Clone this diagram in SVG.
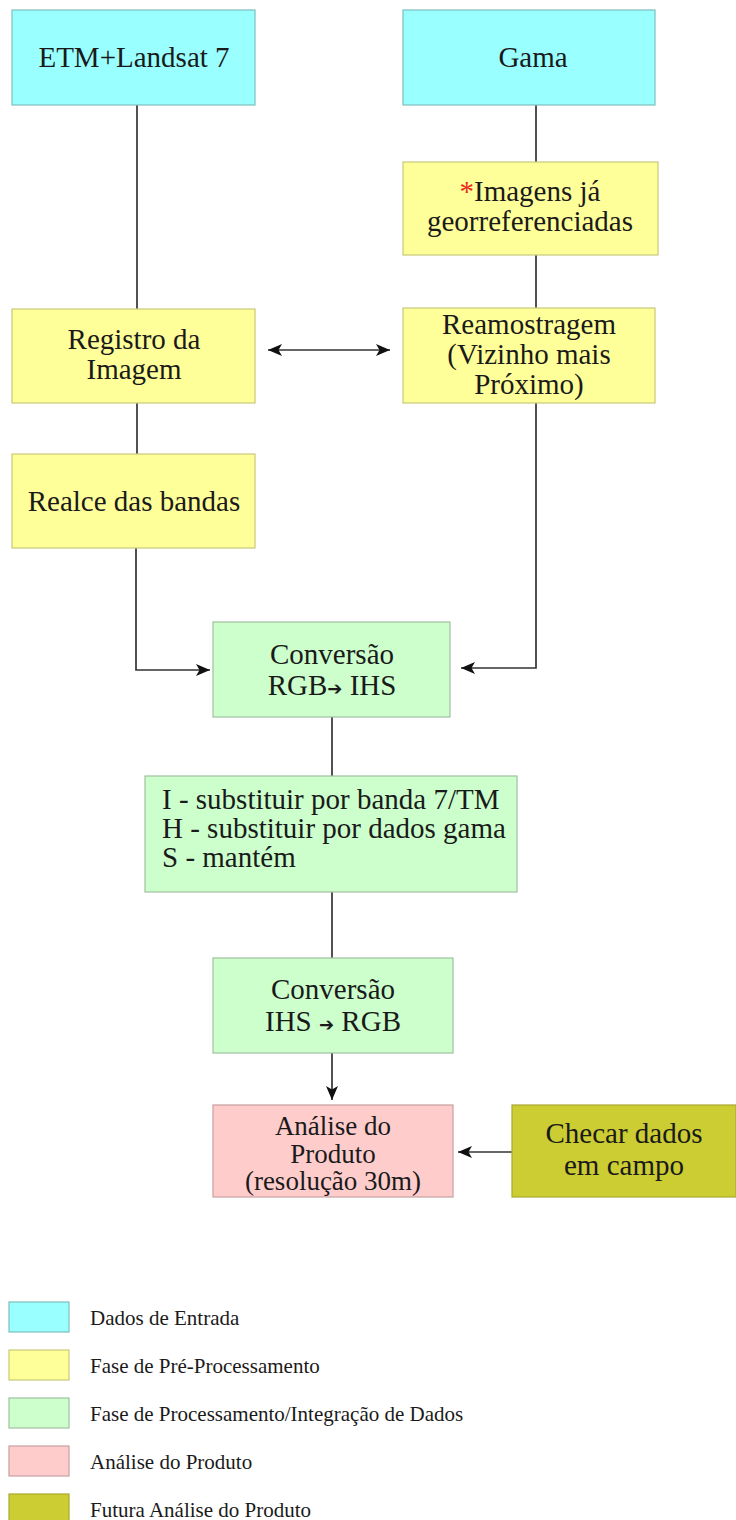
<svg xmlns="http://www.w3.org/2000/svg" width="736" height="1520" viewBox="0 0 736 1520">
<style>
.box{stroke:#9a9a9a;stroke-width:1.2}
.in{fill:#99ffff;stroke:#7fbfbf}
.pre{fill:#ffff99;stroke:#c8c87a}
.proc{fill:#ccffcc;stroke:#a0c0a0}
.ana{fill:#ffcccc;stroke:#c8a0a0}
.fut{fill:#cccc33;stroke:#a8a830}
.t{font-family:"Liberation Serif","Times New Roman",serif;font-size:29px;fill:#1a1a1a;text-anchor:middle}
.tl{font-family:"Liberation Serif","Times New Roman",serif;font-size:29px;fill:#1a1a1a}
.lg{font-family:"Liberation Serif","Times New Roman",serif;font-size:21px;fill:#1a1a1a}
.arr{font-family:"DejaVu Sans",sans-serif;font-size:18px}
.c{stroke:#333;stroke-width:1.7;fill:none}
</style>
<defs>
<marker id="ah" viewBox="0 0 14 12" refX="14" refY="6" markerWidth="14" markerHeight="12" markerUnits="userSpaceOnUse" orient="auto-start-reverse">
<path d="M0,0 L14,6 L0,12 L3.5,6 z" fill="#111"/>
</marker>
</defs>
<rect width="736" height="1520" fill="#ffffff"/>

<g id="connectors">
<line class="c" x1="137" y1="105" x2="137" y2="309"/>
<line class="c" x1="536" y1="105" x2="536" y2="162"/>
<line class="c" x1="536" y1="255" x2="536" y2="308"/>
<line class="c" x1="268" y1="350" x2="390" y2="350" marker-start="url(#ah)" marker-end="url(#ah)"/>
<line class="c" x1="137" y1="403" x2="137" y2="454"/>
<polyline class="c" points="136,548 136,670 210,670" marker-end="url(#ah)"/>
<polyline class="c" points="536,403 536,668 461,668" marker-end="url(#ah)"/>
<line class="c" x1="332" y1="717" x2="332" y2="776"/>
<line class="c" x1="332" y1="892" x2="332" y2="958"/>
<line class="c" x1="332" y1="1053" x2="332" y2="1100" marker-end="url(#ah)"/>
<line class="c" x1="512" y1="1152" x2="458" y2="1152" marker-end="url(#ah)"/>
</g>

<g id="etm">
<rect class="box in" x="12" y="10" width="243" height="95"/>
<text class="t" x="134" y="67">ETM+Landsat 7</text>
</g>
<g id="gama">
<rect class="box in" x="403" y="10" width="252" height="95"/>
<text class="t" x="533" y="67">Gama</text>
</g>
<g id="imagens">
<rect class="box pre" x="403" y="162" width="255" height="93"/>
<text class="t" x="530" y="201"><tspan fill="#e8281e">*</tspan>Imagens já</text>
<text class="t" x="530" y="231">georreferenciadas</text>
</g>
<g id="registro">
<rect class="box pre" x="12" y="309" width="243" height="94"/>
<text class="t" x="134" y="349">Registro da</text>
<text class="t" x="134" y="379">Imagem</text>
</g>
<g id="reamostragem">
<rect class="box pre" x="403" y="308" width="252" height="95"/>
<text class="t" x="529" y="334">Reamostragem</text>
<text class="t" x="529" y="364">(Vizinho mais</text>
<text class="t" x="529" y="394">Próximo)</text>
</g>
<g id="realce">
<rect class="box pre" x="12" y="454" width="243" height="94"/>
<text class="t" x="134" y="511">Realce das bandas</text>
</g>
<g id="conversao1">
<rect class="box proc" x="213" y="622" width="237" height="95"/>
<text class="t" x="332" y="664">Conversão</text>
<text class="t" x="332" y="695">RGB<tspan class="arr">➔</tspan> IHS</text>
</g>
<g id="substituir">
<rect class="box proc" x="145" y="776" width="372" height="116"/>
<text class="tl" x="162" y="809">I - substituir por banda 7/TM</text>
<text class="tl" x="162" y="838">H - substituir por dados gama</text>
<text class="tl" x="162" y="867">S - mantém</text>
</g>
<g id="conversao2">
<rect class="box proc" x="213" y="958" width="240" height="95"/>
<text class="t" x="333" y="999">Conversão</text>
<text class="t" x="333" y="1031">IHS <tspan class="arr">➔</tspan> RGB</text>
</g>
<g id="analise">
<rect class="box ana" x="213" y="1105" width="240" height="92"/>
<text class="t" x="333" y="1135" style="font-size:27px">Análise do</text>
<text class="t" x="333" y="1163" style="font-size:27px">Produto</text>
<text class="t" x="333" y="1190" style="font-size:27px">(resolução 30m)</text>
</g>
<g id="checar">
<rect class="box fut" x="512" y="1105" width="224" height="92"/>
<text class="t" x="624" y="1143">Checar dados</text>
<text class="t" x="624" y="1175">em campo</text>
</g>

<g id="legend">
<rect class="box in" x="9" y="1302" width="60" height="30"/>
<text class="lg" x="90" y="1325">Dados de Entrada</text>
<rect class="box pre" x="9" y="1350" width="60" height="30"/>
<text class="lg" x="90" y="1373">Fase de Pré-Processamento</text>
<rect class="box proc" x="9" y="1398" width="60" height="30"/>
<text class="lg" x="90" y="1421">Fase de Processamento/Integração de Dados</text>
<rect class="box ana" x="9" y="1446" width="60" height="30"/>
<text class="lg" x="90" y="1469">Análise do Produto</text>
<rect class="box fut" x="9" y="1494" width="60" height="30"/>
<text class="lg" x="90" y="1517">Futura Análise do Produto</text>
</g>
</svg>
